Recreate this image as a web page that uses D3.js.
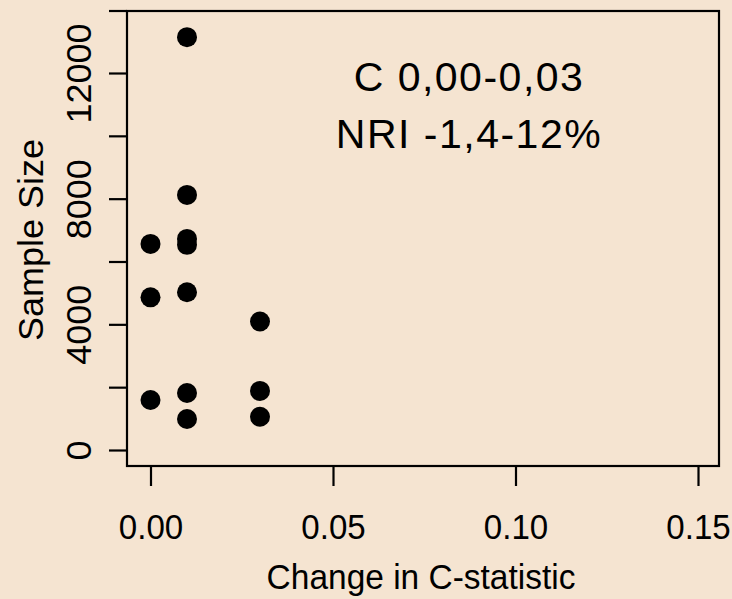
<!DOCTYPE html>
<html lang="en">
<head>
<meta charset="UTF-8">
<title>Sample size vs change in C-statistic</title>
<script src="https://d3js.org/d3.v7.min.js"></script>
<style>
  html, body { margin: 0; padding: 0; background: #f5e4d1; }
  svg { display: block; }
  .axis text, .title { font-family: "Liberation Sans", Arial, sans-serif; fill: #000; }
  .note { font-family: "Liberation Sans", Arial, sans-serif; fill: #000; letter-spacing: 1.5px; }
</style>
</head>
<body>
<div id="chart"></div>
<script>
// data
const changeC    = [0.00, 0.00, 0.00, 0.01, 0.01, 0.01, 0.01, 0.01, 0.01, 0.01, 0.03, 0.03, 0.03];
const sampleSize = [6560, 4860, 1590, 13140, 8120, 6720, 6530, 5020, 1815, 987, 4090, 1880, 1060];
const xTicks = [0, 0.05, 0.10, 0.15];
const yTicks = [0, 2000, 4000, 6000, 8000, 10000, 12000];
const yLabelled = [0, 4000, 8000, 12000];
const noteLines = ["C 0,00-0,03", "NRI -1,4-12%"];

const W = 732, H = 599;
const box = {left: 127, top: 11, right: 719, bottom: 466};

const svg = d3.select("#chart").append("svg")
    .attr("width", W).attr("height", H);

svg.append("rect").attr("width", W).attr("height", H).attr("fill", "#f5e4d1");

const x = d3.scaleLinear().domain([0, 0.15]).range([150.5, 698]);
const y = d3.scaleLinear().domain([0, 12000]).range([450, 73]);

// plot box
svg.append("rect")
    .attr("x", box.left).attr("y", box.top)
    .attr("width", box.right - box.left).attr("height", box.bottom - box.top)
    .attr("fill", "none").attr("stroke", "#000").attr("stroke-width", 2.2);
// top edge runs out over the tick area
svg.append("line")
    .attr("x1", 109).attr("x2", box.left).attr("y1", box.top).attr("y2", box.top)
    .attr("stroke", "#000").attr("stroke-width", 2.2);

// x axis
const gx = svg.append("g").attr("class", "axis")
    .attr("transform", `translate(0,${box.bottom + 1})`)
    .call(d3.axisBottom(x).tickValues(xTicks).tickSize(19).tickPadding(0)
        .tickFormat(d3.format(".2f")));
gx.select(".domain").remove();
gx.selectAll(".tick line").attr("stroke", "#000").attr("stroke-width", 2.2);
gx.selectAll(".tick text")
    .attr("y", 0).attr("dy", 0)
    .attr("transform", "translate(0,72) scale(0.92,1)")
    .attr("font-size", 36);

// y axis
const gy = svg.append("g").attr("class", "axis")
    .attr("transform", `translate(${box.left},0)`)
    .call(d3.axisLeft(y).tickValues(yTicks).tickSize(18).tickPadding(0)
        .tickFormat(d => yLabelled.includes(d) ? d : ""));
gy.select(".domain").remove();
gy.selectAll(".tick line").attr("stroke", "#000").attr("stroke-width", 2.2);
gy.selectAll(".tick text")
    .attr("x", 0).attr("dy", 0)
    .attr("text-anchor", "middle")
    .attr("transform", "translate(-36,0) rotate(-90) scale(1,0.95)")
    .attr("font-size", 36);

// axis titles
svg.append("text").attr("class", "title")
    .attr("transform", `translate(${(box.left + box.right) / 2 - 2},589) scale(0.93,1)`)
    .attr("text-anchor", "middle")
    .attr("font-size", 36)
    .text("Change in C-statistic");

svg.append("text").attr("class", "title")
    .attr("transform", "translate(43,240) rotate(-90) scale(1,0.95)")
    .attr("text-anchor", "middle")
    .attr("font-size", 36)
    .text("Sample Size");

// points
svg.append("g").selectAll("circle")
    .data(changeC.map((c, i) => ({c: c, n: sampleSize[i]})))
    .join("circle")
    .attr("cx", d => x(d.c))
    .attr("cy", d => y(d.n))
    .attr("r", 10)
    .attr("fill", "#000");

// annotation
svg.append("g").selectAll("text")
    .data(noteLines)
    .join("text")
    .attr("class", "note")
    .attr("x", 469)
    .attr("y", (d, i) => 91 + i * 57)
    .attr("text-anchor", "middle")
    .attr("font-size", 41)
    .text(d => d);
</script>
</body>
</html>
